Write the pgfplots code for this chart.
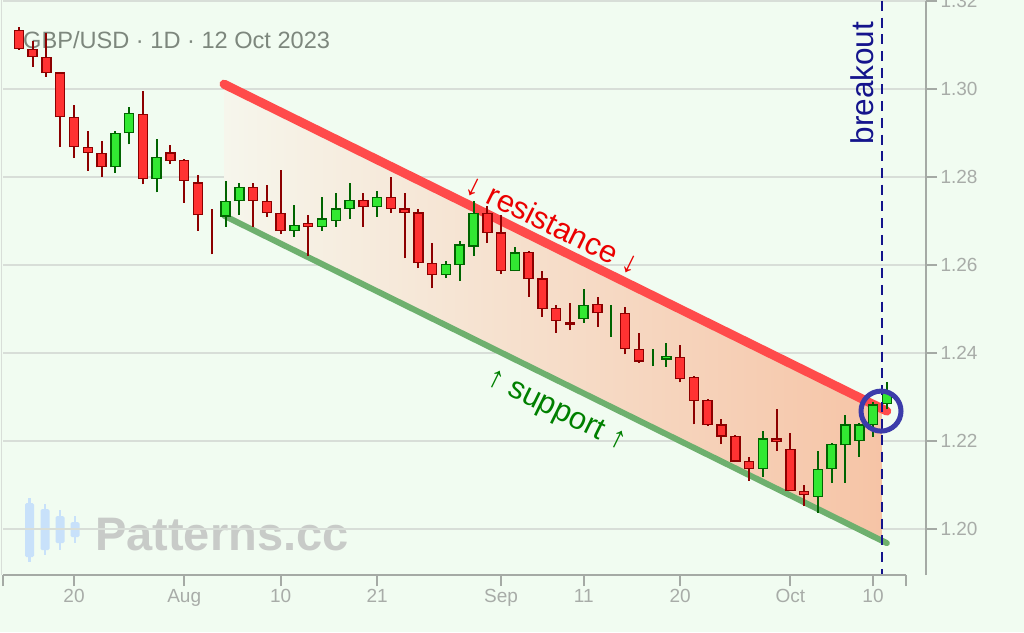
\documentclass[border=0pt]{standalone}
\usepackage{fontspec}
\setmainfont{Liberation Sans}
\usepackage{pgfplots}
\usepackage{pgfplotstable}
\pgfplotsset{compat=1.18}

\definecolor{bg}{RGB}{241,252,241}
\definecolor{gridc}{RGB}{216,222,216}
\definecolor{axisc}{RGB}{165,170,165}
\definecolor{tickc}{RGB}{168,172,168}
\definecolor{titlec}{RGB}{125,135,125}
\definecolor{upfill}{RGB}{50,232,50}
\definecolor{upline}{RGB}{0,100,0}
\definecolor{dnfill}{RGB}{255,50,50}
\definecolor{dnline}{RGB}{140,0,0}
\definecolor{resc}{RGB}{255,75,75}
\definecolor{supc}{RGB}{110,176,110}
\definecolor{navyc}{RGB}{20,20,140}
\definecolor{ringc}{RGB}{60,60,170}
\definecolor{wmgrey}{RGB}{200,203,200}
\definecolor{wmblue}{RGB}{200,225,250}
\definecolor{chanL}{RGB}{246,246,236}
\definecolor{chanR}{RGB}{246,196,166}

% trading day index: 0 = 20 Jul 2023
\pgfplotstableread{
i  o      h      l      c
-4 1.3134 1.3141 1.3089 1.3091
-3 1.3092 1.3110 1.3051 1.3073
-2 1.3073 1.3127 1.3028 1.3036
-1 1.3038 1.3039 1.2869 1.2936
0  1.2937 1.2964 1.2843 1.2868
1  1.2869 1.2905 1.2814 1.2854
2  1.2855 1.2882 1.2801 1.2822
5  1.2943 1.2996 1.2783 1.2795
7  1.2856 1.2873 1.2829 1.2836
8  1.2839 1.2841 1.2742 1.2791
9  1.2788 1.2805 1.2678 1.2713
13 1.2778 1.2786 1.2687 1.2745
14 1.2746 1.2782 1.2710 1.2718
15 1.2719 1.2817 1.2670 1.2677
17 1.2696 1.2714 1.2620 1.2686
21 1.2748 1.2764 1.2687 1.2731
23 1.2755 1.2801 1.2719 1.2727
24 1.2729 1.2764 1.2615 1.2718
25 1.2720 1.2727 1.2593 1.2604
26 1.2605 1.2649 1.2547 1.2577
30 1.2719 1.2733 1.2651 1.2673
31 1.2674 1.2714 1.2579 1.2586
33 1.2630 1.2632 1.2528 1.2568
34 1.2570 1.2586 1.2482 1.2500
35 1.2502 1.2508 1.2446 1.2473
36 1.2470 1.2513 1.2452 1.2464
38 1.2511 1.2527 1.2460 1.2490
40 1.2492 1.2504 1.2397 1.2408
41 1.2410 1.2445 1.2378 1.2380
44 1.2392 1.2418 1.2333 1.2340
45 1.2346 1.2348 1.2238 1.2291
46 1.2293 1.2295 1.2234 1.2236
47 1.2238 1.2250 1.2193 1.2210
48 1.2211 1.2214 1.2152 1.2153
49 1.2155 1.2163 1.2110 1.2136
51 1.2206 1.2272 1.2178 1.2198
52 1.2182 1.2219 1.2086 1.2086
53 1.2087 1.2100 1.2052 1.2077
}\dn

\pgfplotstableread{
i  o      h      l      c
3  1.2822 1.2905 1.2810 1.2901
4  1.2899 1.2958 1.2874 1.2946
6  1.2795 1.2886 1.2765 1.2846
11 1.2710 1.2791 1.2687 1.2746
12 1.2745 1.2786 1.2714 1.2778
16 1.2677 1.2736 1.2664 1.2692
18 1.2686 1.2755 1.2678 1.2706
19 1.2700 1.2764 1.2687 1.2729
20 1.2727 1.2787 1.2705 1.2748
22 1.2731 1.2768 1.2710 1.2755
27 1.2577 1.2609 1.2570 1.2602
28 1.2600 1.2655 1.2564 1.2647
29 1.2642 1.2746 1.2620 1.2719
32 1.2586 1.2640 1.2586 1.2629
37 1.2477 1.2545 1.2469 1.2509
43 1.2385 1.2422 1.2369 1.2394
50 1.2136 1.2223 1.2119 1.2206
54 1.2073 1.2178 1.2037 1.2137
55 1.2136 1.2196 1.2105 1.2193
56 1.2190 1.2259 1.2105 1.2238
57 1.2200 1.2242 1.2164 1.2238
58 1.2236 1.2289 1.2210 1.2283
59 1.2283 1.2335 1.2272 1.2310
}\up

% candles drawn as a bare line
\pgfplotstableread{
i  h      l
39 1.2509 1.2437
42 1.2408 1.2370
}\upthin
\pgfplotstableread{
i  h      l
10 1.2727 1.2624
}\dnthin

\pgfplotsset{
  candle/.style={draw=none, mark=none, forget plot,
    error bars/.cd, y dir=plus, y explicit, error mark=none,
    error bar style={draw=#1}},
}

\begin{document}
\begin{tikzpicture}
\useasboundingbox (0,0) rectangle (1024pt,632pt);
\clip (0,0) rectangle (1024pt,632pt);
\fill[bg] (0,0) rectangle (1024pt,632pt);
\draw[gridc, line width=1pt] (1pt,57pt) -- (1pt,632pt);

\node[anchor=base west, inner sep=0, text=titlec, font=\fontsize{23.6}{24}\selectfont]
  at (23pt,583pt) {GBP/USD · 1D · 12 Oct 2023};

% watermark
\begin{scope}[wmblue]
  \fill (28.3pt,70pt) rectangle (30.7pt,134pt);
  \fill[rounded corners=1.5pt] (25pt,75pt) rectangle (34pt,129pt);
  \fill (43.8pt,77pt) rectangle (46.2pt,128pt);
  \fill[rounded corners=1.5pt] (40.5pt,82pt) rectangle (49.5pt,123pt);
  \fill (58.8pt,82pt) rectangle (61.2pt,122pt);
  \fill[rounded corners=1.5pt] (55.5pt,89pt) rectangle (64.5pt,116pt);
  \fill (73.8pt,89pt) rectangle (76.2pt,116pt);
  \fill[rounded corners=1.5pt] (70.5pt,95pt) rectangle (79.5pt,110pt);
\end{scope}
\node[anchor=base west, inner sep=0, text=wmgrey, font=\fontsize{47}{47}\selectfont\bfseries]
  at (95pt,82pt) {Patterns.cc};

\begin{axis}[
    at={(3pt,57pt)}, anchor=south west,
    scale only axis,
    width  = 923pt,
    height = 574pt,
    xmin   = -5.154,
    xmax   = 61.846,
    ymin   = 1.18955,
    ymax   = 1.32,
    axis line style = {draw=none},
    xtick = {-5.154,0,8,15,22,31,37,44,52,58,60.395},
    xticklabels = {,20,Aug,10,21,Sep,11,20,Oct,10,},
    ytick = {1.20,1.22,1.24,1.26,1.28,1.30,1.32},
    yticklabels = {1.20,1.22,1.24,1.26,1.28,1.30,1.32},
    xtick pos = left,
    ytick pos = right,
    tick align = outside,
    major tick length = 11pt,
    tick style = {draw=axisc, line width=2pt},
    tick label style = {font=\fontsize{19}{19}\selectfont, text=tickc},
    ymajorgrids,
    major grid style = {draw=gridc, line width=1.5pt},
    clip mode = individual,
  ]

  % channel
  \addplot[draw=none, left color=chanL, right color=chanR]
    coordinates {(10.89,1.3011) (58.65,1.2273) (58.65,1.1973) (10.89,1.2712)} --cycle;
  \addplot[draw=resc, line width=9pt, line cap=round]
    coordinates {(10.89,1.3011) (59.0,1.2268)};
  \addplot[draw=supc, line width=6pt, line cap=round]
    coordinates {(10.9,1.2712) (59.0,1.1968)};

  % wicks
  \addplot[candle={dnline, line width=2pt}]
    table[x=i, y=l, y error plus expr=\thisrow{h}-\thisrow{l}] {\dn};
  \addplot[candle={dnline, line width=2pt}]
    table[x=i, y=l, y error plus expr=\thisrow{h}-\thisrow{l}] {\dnthin};
  \addplot[candle={upline, line width=2pt}]
    table[x=i, y=l, y error plus expr=\thisrow{h}-\thisrow{l}] {\up};
  \addplot[candle={upline, line width=2pt}]
    table[x=i, y=l, y error plus expr=\thisrow{h}-\thisrow{l}] {\upthin};

  % bodies: outline then fill
  \addplot[candle={dnline, line width=10.5pt}]
    table[x=i, y=c, y error plus expr=\thisrow{o}-\thisrow{c}] {\dn};
  \addplot[candle={dnfill, line width=7.5pt}]
    table[x=i, y expr=\thisrow{c}+0.0003, y error plus expr=\thisrow{o}-\thisrow{c}-0.0006] {\dn};
  \addplot[candle={upline, line width=10.5pt}]
    table[x=i, y=o, y error plus expr=\thisrow{c}-\thisrow{o}] {\up};
  \addplot[candle={upfill, line width=7.5pt}]
    table[x=i, y expr=\thisrow{o}+0.0003, y error plus expr=\thisrow{c}-\thisrow{o}-0.0006] {\up};

  % breakout marker
  \addplot[navyc, line width=2.5pt, dash pattern=on 10pt off 6.7pt]
    coordinates {(58.65,1.32) (58.65,1.18955)};
  \addplot[only marks, mark=o, mark size=20pt, mark options={draw=ringc, line width=5pt}]
    coordinates {(58.58,1.2268)};

  % axis lines
  \draw[axisc, line width=2pt] (axis cs:-5.154,1.18955) -- (axis cs:60.395,1.18955);
  \draw[axisc, line width=2pt] (axis cs:61.846,1.18955) -- (axis cs:61.846,1.32);

  % labels
  \node[rotate=90, anchor=base, inner sep=0, text=navyc, font=\fontsize{31.5}{32}\selectfont]
    at (axis cs:58.0,1.30136) {breakout};
  \node[rotate=-26.2, text=red!92!black, font=\fontsize{31}{32}\selectfont]
    at (axis cs:34.77,1.2693) {↓ resistance ↓};
  \node[rotate=-26.2, text=green!50!black, font=\fontsize{31}{32}\selectfont]
    at (axis cs:34.99,1.2268) {↑ support ↑};
\end{axis}
\end{tikzpicture}
\end{document}
